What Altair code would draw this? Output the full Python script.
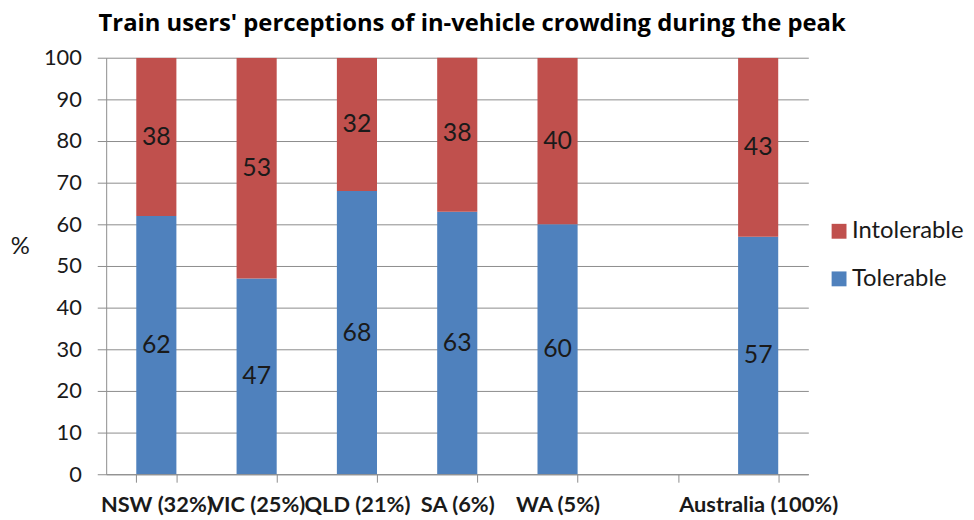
import altair as alt
import pandas as pd

categories = ["NSW (32%)", "VIC (25%)", "QLD (21%)", "SA (6%)", "WA (5%)", " ", "Australia (100%)"]
bar_categories = ["NSW (32%)", "VIC (25%)", "QLD (21%)", "SA (6%)", "WA (5%)", "Australia (100%)"]
tolerable = [62, 47, 68, 63, 60, 57]
intolerable = [38, 53, 32, 38, 40, 43]
series = ["Intolerable", "Tolerable"]
colors = ["#C0504D", "#4F81BD"]
y_ticks = list(range(0, 101, 10))

rows = []
for c, t, i in zip(bar_categories, tolerable, intolerable):
    rows.append({"cat": c, "series": "Tolerable", "value": t, "ord": 0})
    rows.append({"cat": c, "series": "Intolerable", "value": i, "ord": 1})
df = pd.DataFrame(rows)

FONT = "Lato"
BFONT = "Open Sans"
GRAY = "#8c8c8c"
TXT = "#1a1a1a"

base = alt.Chart(df).transform_stack(
    stack="value", groupby=["cat"], sort=[alt.SortField("ord")], as_=["y0", "y1"]
).transform_calculate(mid="(datum.y0 + datum.y1) / 2")

xenc = alt.X(
    "cat:N",
    scale=alt.Scale(domain=categories, paddingInner=0.6, paddingOuter=0.3),
    sort=categories,
    axis=alt.Axis(
        title=None, tickBand="extent", labelAngle=0, labelOverlap=False,
        labelFont=FONT, labelFontWeight="bold", labelFontSize=22, labelColor=TXT,
        labelPadding=13, tickSize=8, tickColor=GRAY, domainColor=GRAY,
        labelBaseline="top",
    ),
)

bars = base.mark_bar(clip=True).encode(
    x=xenc,
    y=alt.Y(
        "y0:Q",
        scale=alt.Scale(domain=[0, 100], nice=False),
        axis=alt.Axis(
            values=y_ticks, title="%", titleAngle=0, titleX=-87, titleY=190,
            titleAlign="center", titleBaseline="middle", titleFont=FONT,
            titleFontSize=24, titleFontWeight="normal", titleColor=TXT,
            labelFont=FONT, labelFontSize=22, labelColor=TXT, labelPadding=16,
            tickSize=9, tickColor=GRAY, domainColor=GRAY, gridColor=GRAY,
            grid=True,
        ),
    ),
    y2="y1:Q",
    color=alt.Color(
        "series:N",
        scale=alt.Scale(domain=series, range=colors),
        legend=alt.Legend(
            title=None, orient="none", legendX=727, legendY=163,
            symbolType="square", symbolSize=225, symbolStrokeWidth=0,
            labelFont=FONT, labelFontSize=24, labelColor=TXT, labelOffset=1,
            rowPadding=24, padding=0,
        ),
    ),
)

labels = base.mark_text(font=FONT, fontSize=25, color=TXT).encode(
    x=alt.X("cat:N", sort=categories),
    y=alt.Y("mid:Q"),
    text=alt.Text("value:Q"),
)

chart = alt.layer(bars, labels).properties(
    width=708,
    height=420,
    autosize=alt.AutoSizeParams(type="none"),
    padding={"left": 99, "top": 48, "right": 159, "bottom": 44},
    title=alt.TitleParams(
        "Train users' perceptions of in-vehicle crowding during the peak",
        font=BFONT, fontSize=24, fontWeight="bold", color="#000000",
        anchor="middle", dx=15, offset=11,
    ),
).configure_view(stroke=None).configure_axisX(grid=False)

chart.save("out.html", embed_options={"renderer": "svg", "actions": False})
